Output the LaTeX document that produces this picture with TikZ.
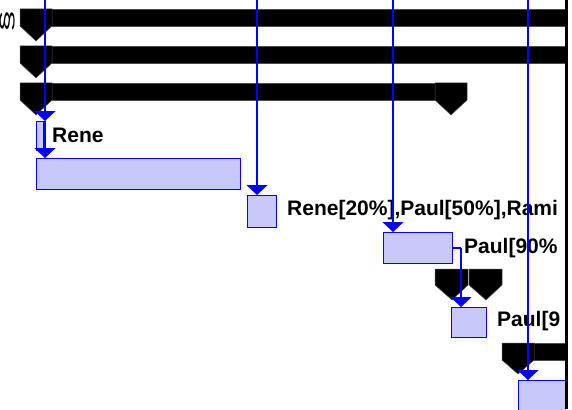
\documentclass[tikz,border=0pt]{standalone}
\usepackage{fontspec}
\setmainfont{Liberation Sans}
\usetikzlibrary{arrows.meta}
\definecolor{taskfill}{RGB}{200,200,250}
\tikzset{
  task/.style={draw=blue, line width=1.1pt, fill=taskfill, inner sep=0pt, anchor=north west},
  lbl/.style={font=\bfseries\fontsize{21}{23}\selectfont, inner sep=0pt, anchor=base west},
  link/.style={draw=blue, line width=1.3pt, -{Triangle[width=21pt,length=10pt]}},
  plain/.style={draw=blue, line width=1.3pt},
  summ/.style={fill=black, draw=black!70, line width=0.5pt}
}
\begin{document}
\begin{tikzpicture}[x=1pt,y=-1pt]
\useasboundingbox (0,0) rectangle (572,409);
\fill[white] (0,0) rectangle (572,409);
\begin{scope}
\clip (-1,-1) rectangle (566,410);
% glyph at top left
\node[inner sep=0pt] (glyph) at (8,21) {\resizebox{15pt}{22pt}{\rotatebox{90}{\rmfamily\S}}};
% summary bars
\fill[summ] (20,9) rectangle (570,26);
\fill[summ] (20,9) -- (52,9) -- (52,26) -- (36,41) -- (20,26) -- cycle;
\fill[summ] (20,46) rectangle (570,63);
\fill[summ] (20,46) -- (52,46) -- (52,63) -- (36,78) -- (20,63) -- cycle;
\fill[summ] (20,83) rectangle (451,100);
\fill[summ] (20,83) -- (52,83) -- (52,100) -- (36,115) -- (20,100) -- cycle;
\fill[summ] (435,83) -- (467,83) -- (467,100) -- (451,115) -- (435,100) -- cycle;
\fill[summ] (435,269) -- (468,269) -- (468,285) -- (452,300) -- (435,285) -- cycle;
\fill[summ] (469,269) -- (502,269) -- (502,285) -- (486,300) -- (469,285) -- cycle;
\fill[summ] (502,343) rectangle (570,360);
\fill[summ] (502,343) -- (534,343) -- (534,360) -- (518,374) -- (502,360) -- cycle;
% tasks
\node[task, minimum width=7pt, minimum height=29pt] (t0) at (36,121) {};
\node[task, minimum width=204pt, minimum height=31pt] (t1) at (36,158) {};
\node[task, minimum width=29pt, minimum height=32pt] (t2) at (247,195) {};
\node[task, minimum width=69pt, minimum height=31pt] (t3) at (383,232) {};
\node[task, minimum width=35pt, minimum height=30pt] (t4) at (451,307) {};
\node[task, minimum width=60pt, minimum height=40pt] (t5) at (518,380) {};
% labels
\node[lbl] (l0) at (52,142) {Rene};
\node[lbl] (l2) at (287,215) {Rene[20\%],Paul[50\%],Rami};
\node[lbl] (l3) at (464,253) {Paul[90\%};
\node[lbl] (l4) at (497,326) {Paul[9};
% connectors
\coordinate (a0) at (45,0);
\coordinate (a2) at (257,0);
\coordinate (a3) at (393,0);
\coordinate (a5) at (528,0);
\coordinate (m0) at (45,121);
\coordinate (k3) at (461,248);
\draw[link] (a0) -- (m0);
\draw[link] (m0) -- (t1.north -| m0);
\draw[link] (a2) -- (t2.north -| a2);
\draw[link] (a3) -- (t3.north -| a3);
\draw[plain] (t3.east |- k3) -- (k3);
\draw[link] (k3) -- (t4.north -| k3);
\draw[link] (a5) -- (t5.north -| a5);
\end{scope}
\fill[black] (565,0) rectangle (567.5,409);
\end{tikzpicture}
\end{document}
